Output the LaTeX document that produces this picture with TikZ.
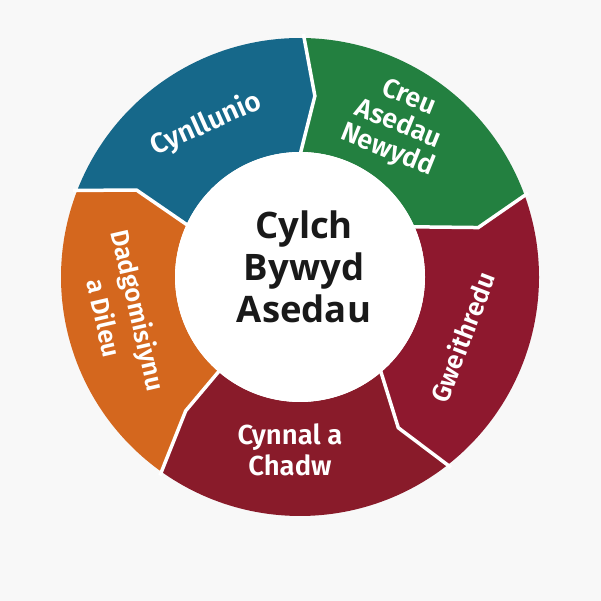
\documentclass[tikz,border=0pt]{standalone}
\usepackage{fontspec}
\setmainfont{Fira Sans}
\newfontfamily\segfont{Fira Sans SemiBold}
\newfontfamily\hubfont{Open Sans}
\definecolor{bg}{RGB}{248,248,248}
\definecolor{cblue}{RGB}{22,104,138}
\definecolor{cgreen}{RGB}{35,128,64}
\definecolor{cred}{RGB}{142,24,46}
\definecolor{cmaroon}{RGB}{137,27,42}
\definecolor{corange}{RGB}{212,103,30}
\tikzset{
  seglabel/.style={text=white, align=center, inner sep=0pt},
  gapline/.style={white, line width=3.5pt, line join=miter},
}
\begin{document}
\begin{tikzpicture}[x=1pt,y=1pt]
\fill[bg] (0,0) rectangle (601,601);
\useasboundingbox (0,0) rectangle (601,601);
\begin{scope}[shift={(300,324)}]
  % segments
  \fill[cblue] (159.1:239pt) arc[start angle=159.1, end angle=89.2, radius=239pt]
     -- (85.3:181.6pt) -- (90:125pt) arc[start angle=90, end angle=155.4, radius=125pt]
     -- (152:184.9pt) -- cycle;
  \fill[cgreen] (89.2:239pt) arc[start angle=89.2, end angle=20.2, radius=239pt]
     -- (15.5:185pt) -- (24.3:125pt) arc[start angle=24.3, end angle=90, radius=125pt]
     -- (85.3:181.6pt) -- cycle;
  \fill[cred] (20.2:239pt) arc[start angle=20.2, end angle=-51.6, radius=239pt]
     -- (-56.9:180pt) -- (-49:125pt) arc[start angle=-49, end angle=24.3, radius=125pt]
     -- (15.5:185pt) -- cycle;
  \fill[cmaroon] (-51.6:239pt) arc[start angle=-51.6, end angle=-125.2, radius=239pt]
     -- (-130.5:176pt) -- (-130.7:125pt) arc[start angle=-130.7, end angle=-49, radius=125pt]
     -- (-56.9:180pt) -- cycle;
  \fill[corange] (-125.2:239pt) arc[start angle=-125.2, end angle=-200.9, radius=239pt]
     -- (-208:184.9pt) -- (-204.6:125pt) arc[start angle=-204.6, end angle=-130.7, radius=125pt]
     -- (-130.5:176pt) -- cycle;
  % white gaps
  \draw[gapline] (89.2:243pt) -- (85.3:181.6pt) -- (90:122pt);
  \draw[gapline] (20.2:243pt) -- (15.5:185pt) -- (24.3:122pt);
  \draw[gapline] (-51.6:243pt) -- (-56.9:180pt) -- (-49:122pt);
  \draw[gapline] (-125.2:243pt) -- (-130.5:176pt) -- (-130.7:122pt);
  \draw[gapline] (159.1:243pt) -- (152:184.9pt) -- (155.4:122pt);
  \fill[white] (0,0) circle[radius=125pt];
\end{scope}
% labels
\node[seglabel, font=\segfont\fontsize{28}{30}\selectfont, rotate=24] (cyn) at (206.5,477) {Cynllunio};
\node[seglabel, font=\segfont\fontsize{27}{28.5}\selectfont, rotate=-22] (creu) at (398,476) {Creu\\Asedau\\Newydd};
\node[seglabel, font=\segfont\fontsize{26}{28}\selectfont, rotate=69] (gwe) at (462,264) {Gweithredu};
\node[seglabel, font=\segfont\fontsize{27.5}{31}\selectfont] (cyc) at (290,151) {Cynnal a\\Chadw};
\node[seglabel, font=\segfont\fontsize{25.5}{35}\selectfont, rotate=-77] (dad) at (122,287) {Dadgomisiynu\\a Dileu};
\node[text={black!90}, align=center, inner sep=0pt, font=\hubfont\bfseries\fontsize{36.5}{42}\selectfont] (hub) at (304,334) {Cylch\\Bywyd\\Asedau};
\end{tikzpicture}
\end{document}
